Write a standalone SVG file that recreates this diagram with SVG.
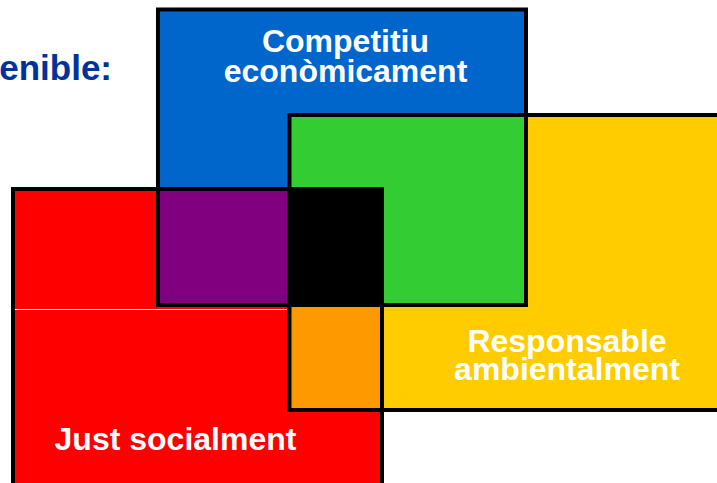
<svg xmlns="http://www.w3.org/2000/svg" width="717" height="483" viewBox="0 0 717 483">
  <style>
    .lbl { font-family: "Liberation Sans", Arial, sans-serif; font-weight: bold; font-size: 32px; fill: #ffffff; }
    .title { font-family: "Liberation Sans", Arial, sans-serif; font-weight: bold; font-size: 35px; fill: #003399; }
    .edge { fill: none; stroke: #000000; stroke-width: 4; }
  </style>
  <rect x="0" y="0" width="717" height="483" fill="#ffffff"/>
  <text class="title" x="112" y="80" text-anchor="end">enible:</text>

  <g id="fills">
    <rect id="blue" x="158" y="9.5" width="368" height="295.5" fill="#0066CC"/>
    <rect id="yellow" x="289.5" y="115" width="440" height="295" fill="#FFCC00"/>
    <rect id="red" x="13" y="189" width="369" height="300" fill="#FF0000"/>
    <rect id="green" x="289.5" y="115" width="236.5" height="190" fill="#33CC33"/>
    <rect id="purple" x="158" y="189" width="224" height="116" fill="#800080"/>
    <rect id="orange" x="289.5" y="189" width="92.5" height="221" fill="#FF9900"/>
    <rect id="black" x="289.5" y="189" width="92.5" height="116" fill="#000000"/>
  </g>

  <g id="outlines">
    <rect class="edge" x="158" y="9.5" width="368" height="295.5"/>
    <rect class="edge" x="289.5" y="115" width="440" height="295"/>
    <rect class="edge" x="13" y="189" width="369" height="300"/>
  </g>
  <line x1="15" y1="309.5" x2="287" y2="309.5" stroke="#ffffff" stroke-width="1"/>

  <g id="node-economic">
    <text class="lbl" x="345.5" y="52" text-anchor="middle">Competitiu</text>
    <text class="lbl" x="345.5" y="82" text-anchor="middle">econòmicament</text>
  </g>
  <g id="node-environment">
    <text class="lbl" x="567" y="351.5" text-anchor="middle">Responsable</text>
    <text class="lbl" x="567" y="380" text-anchor="middle">ambientalment</text>
  </g>
  <g id="node-social">
    <text class="lbl" x="175.5" y="450" text-anchor="middle">Just socialment</text>
  </g>
</svg>
